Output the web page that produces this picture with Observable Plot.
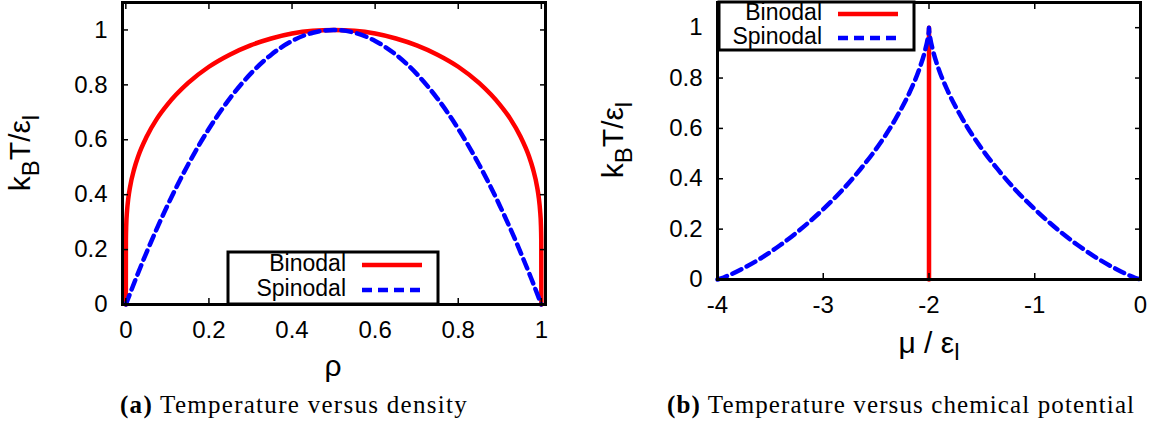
<!DOCTYPE html>
<html><head><meta charset="utf-8">
<script src="https://cdn.jsdelivr.net/npm/d3@7"></script>
<script src="https://cdn.jsdelivr.net/npm/@observablehq/plot@0.6"></script>
<style>
body{margin:0;background:#fff;}
#wrap{position:relative;width:1154px;height:435px;overflow:hidden;background:#fff;}
.panel{position:absolute;top:0;}
.cap{position:absolute;top:391px;font-family:"Liberation Serif","Times New Roman",serif;font-size:25px;white-space:nowrap;color:#000;}
</style></head><body><div id="wrap"></div><script>
// ---------- data ----------
// (a) temperature vs density
const binodalRho = [0, 0.0002, 0.001, 0.003, 0.006, 0.01, 0.02, 0.03, 0.05, 0.075, 0.1, 0.15, 0.2, 0.25, 0.3, 0.35, 0.4, 0.45, 0.5,
                    0.55, 0.6, 0.65, 0.7, 0.75, 0.8, 0.85, 0.9, 0.925, 0.95, 0.97, 0.98, 0.99, 0.994, 0.997, 0.999, 0.9998, 1];
const binodalT   = [0, 0.235, 0.289, 0.342, 0.387, 0.427, 0.493, 0.541, 0.611, 0.677, 0.728, 0.807, 0.866, 0.910, 0.944, 0.969, 0.987, 0.997, 1.0,
                    0.997, 0.987, 0.969, 0.944, 0.910, 0.866, 0.807, 0.728, 0.677, 0.611, 0.541, 0.493, 0.427, 0.387, 0.342, 0.289, 0.235, 0];
const spinodalRho = [0, 0.025, 0.05, 0.1, 0.15, 0.2, 0.25, 0.3, 0.35, 0.4, 0.45, 0.5, 0.55, 0.6, 0.65, 0.7, 0.75, 0.8, 0.85, 0.9, 0.95, 0.975, 1];
const spinodalT   = [0, 0.0975, 0.19, 0.36, 0.51, 0.64, 0.75, 0.84, 0.91, 0.96, 0.99, 1.0, 0.99, 0.96, 0.91, 0.84, 0.75, 0.64, 0.51, 0.36, 0.19, 0.0975, 0];
// (b) temperature vs chemical potential
const binodalMu  = [-2, -2];
const binodalMuT = [0, 1];
const spinodalMu  = [-4, -3.942, -3.875, -3.778, -3.615, -3.412, -3.241, -3.003, -2.809, -2.649, -2.515, -2.313, -2.176, -2.088, -2.037, -2.011, -2.001, -2,
                     -1.999, -1.989, -1.963, -1.912, -1.824, -1.687, -1.485, -1.351, -1.191, -0.997, -0.759, -0.588, -0.385, -0.222, -0.125, -0.058, 0];
const spinodalMuT = [0, 0.008, 0.020, 0.040, 0.078, 0.135, 0.19, 0.278, 0.36, 0.438, 0.51, 0.64, 0.75, 0.84, 0.91, 0.96, 0.99, 1.0,
                     0.99, 0.96, 0.91, 0.84, 0.75, 0.64, 0.51, 0.438, 0.36, 0.278, 0.19, 0.135, 0.078, 0.040, 0.020, 0.008, 0];
// tick values
const rhoTicks = [0, 0.2, 0.4, 0.6, 0.8, 1];
const muTicks = [-4, -3, -2, -1, 0];
const tTicks = [0, 0.2, 0.4, 0.6, 0.8, 1];
const seriesNames = ["Binodal", "Spinodal"];
const captions = [["(a)", "Temperature versus density"], ["(b)", "Temperature versus chemical potential"]];

// ---------- helpers ----------
const RED = "#ff0000", BLUE = "#0000ff";
const zip = (xs, ys) => xs.map((x, i) => ({x, y: ys[i]}));
const fmt = d => String(d);
const FONT = "'Liberation Sans', Arial, Helvetica, sans-serif";

function axes(xTicks) {
  return [
    Plot.axisX(xTicks, {anchor: "bottom", tickSize: -6, tickPadding: 22, tickFormat: fmt, label: null, strokeWidth: 1.5, fontSize: 24}),
    Plot.axisX(xTicks, {anchor: "top", tickSize: -6, tickFormat: () => "", label: null, strokeWidth: 1.5}),
    Plot.axisY(tTicks, {anchor: "left", tickSize: -6, tickPadding: 21, tickFormat: fmt, label: null, strokeWidth: 1.5, fontSize: 24}),
    Plot.axisY(tTicks, {anchor: "right", tickSize: -6, tickFormat: () => "", label: null, strokeWidth: 1.5})
  ];
}

function panel(opts) {
  return Plot.plot({
    width: 577, height: 380,
    marginLeft: opts.ml, marginRight: opts.mr, marginTop: 2, marginBottom: opts.mb,
    style: {fontFamily: FONT, fontSize: "24px", color: "#000", background: "transparent", overflow: "visible"},
    x: {domain: opts.xDomain},
    y: {domain: [0, 1.1]},
    marks: [
      Plot.line(opts.bin, {x: "x", y: "y", stroke: RED, strokeWidth: 4.5, curve: "monotone-x"}),
      Plot.line(opts.spin, {x: "x", y: "y", stroke: BLUE, strokeWidth: 4.5, strokeDasharray: "10,6", curve: "monotone-x"}),
      Plot.frame({stroke: "#000", strokeWidth: 3}),
      ...axes(opts.xTicks)
    ]
  });
}

function legend(svg, L) {
  const g = d3.select(svg).append("g");
  g.append("rect").attr("x", L.x0).attr("y", L.y0).attr("width", L.x1 - L.x0).attr("height", L.y1 - L.y0)
    .attr("fill", "#fff").attr("stroke", "#000").attr("stroke-width", 3);
  seriesNames.forEach((name, i) => {
    g.append("text").attr("x", L.tx).attr("y", L.ys[i]).attr("text-anchor", "end").attr("dominant-baseline", "middle")
      .attr("font-family", FONT).attr("font-size", 23).attr("fill", "#000").text(name);
    g.append("line").attr("x1", L.lx0).attr("x2", L.lx1).attr("y1", L.ys[i]).attr("y2", L.ys[i])
      .attr("stroke", i ? BLUE : RED).attr("stroke-width", 4.5).attr("stroke-dasharray", i ? "10,6" : null);
  });
}

function tLabel(svg, x, y) {
  const t = d3.select(svg).append("text").attr("transform", `translate(${x},${y}) rotate(-90)`)
    .attr("text-anchor", "middle").attr("font-family", FONT).attr("font-size", 30).attr("fill", "#000");
  t.append("tspan").text("k");
  t.append("tspan").attr("font-size", 24).attr("dy", 9).text("B");
  t.append("tspan").attr("dy", -9).text("T/ε");
  t.append("tspan").attr("font-size", 24).attr("dy", 9).text("l");
}

const wrap = document.getElementById("wrap");

// panel (a)
const svgA = panel({ml: 122, mr: 32, mb: 76, xDomain: [-0.008, 1.01], xTicks: rhoTicks,
  bin: zip(binodalRho, binodalT), spin: zip(spinodalRho, spinodalT)});
svgA.classList.add("panel"); svgA.style.left = "0px";
wrap.appendChild(svgA);
legend(svgA, {x0: 228, x1: 438, y0: 252, y1: 304, tx: 346, lx0: 362, lx1: 422, ys: [265, 290]});
tLabel(svgA, 30, 153);
d3.select(svgA).append("text").attr("x", 333).attr("y", 368).attr("text-anchor", "middle").attr("dominant-baseline", "middle")
  .attr("font-family", FONT).attr("font-size", 30).attr("fill", "#000").text("ρ");

// panel (b)
const svgB = panel({ml: 140, mr: 14, mb: 101, xDomain: [-4, 0], xTicks: muTicks,
  bin: zip(binodalMu, binodalMuT), spin: zip(spinodalMu, spinodalMuT)});
svgB.classList.add("panel"); svgB.style.left = "577px";
wrap.appendChild(svgB);
legend(svgB, {x0: 142, x1: 337, y0: 2, y1: 50, tx: 245, lx0: 261, lx1: 321, ys: [14, 38]});
tLabel(svgB, 46, 140);
{
  const t = d3.select(svgB).append("text").attr("x", 352).attr("y", 345).attr("text-anchor", "middle").attr("dominant-baseline", "middle")
    .attr("font-family", FONT).attr("font-size", 30).attr("fill", "#000");
  t.append("tspan").text("μ / ε");
  t.append("tspan").attr("font-size", 24).attr("dy", 9).text("l");
}

// captions (stretched to the width they take in the reference)
[[120, 468, 0], [667, 1135, 1]].forEach(([left, right, i]) => {
  const d = document.createElement("div");
  d.className = "cap"; d.style.left = left + "px";
  const b = document.createElement("b"); b.textContent = captions[i][0];
  d.appendChild(b); d.appendChild(document.createTextNode(" " + captions[i][1]));
  wrap.appendChild(d);
  const w = d.getBoundingClientRect().width;
  const n = (captions[i][0] + " " + captions[i][1]).length;
  const ls = Math.max(0, (right - left - w) / n);
  d.style.letterSpacing = ls.toFixed(2) + "px";
});
</script></body></html>
